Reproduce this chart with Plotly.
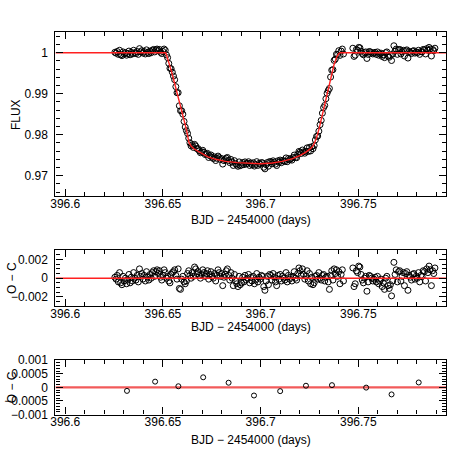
import plotly.graph_objects as go

# ---------------- data ----------------
TIME = [
 396.6254, 396.6260, 396.6266, 396.6272, 396.6278, 396.6284, 396.6290, 396.6296, 396.6302, 396.6308,
 396.6314, 396.6320, 396.6326, 396.6332, 396.6338, 396.6344, 396.6350, 396.6356, 396.6362, 396.6368,
 396.6374, 396.6380, 396.6386, 396.6392, 396.6398, 396.6404, 396.6410, 396.6416, 396.6422, 396.6428,
 396.6434, 396.6440, 396.6446, 396.6452, 396.6458, 396.6464, 396.6470, 396.6476, 396.6482, 396.6488,
 396.6494, 396.6500, 396.6506, 396.6512, 396.6518, 396.6524, 396.6530, 396.6536, 396.6542, 396.6548,
 396.6554, 396.6560, 396.6566, 396.6572, 396.6578, 396.6584, 396.6590, 396.6596, 396.6602, 396.6608,
 396.6614, 396.6620, 396.6626, 396.6632, 396.6638, 396.6644, 396.6650, 396.6656, 396.6662, 396.6668,
 396.6674, 396.6680, 396.6686, 396.6692, 396.6698, 396.6704, 396.6710, 396.6716, 396.6722, 396.6728,
 396.6734, 396.6740, 396.6746, 396.6752, 396.6758, 396.6764, 396.6770, 396.6776, 396.6782, 396.6788,
 396.6794, 396.6800, 396.6806, 396.6812, 396.6818, 396.6824, 396.6830, 396.6836, 396.6842, 396.6848,
 396.6854, 396.6860, 396.6866, 396.6872, 396.6878, 396.6884, 396.6890, 396.6896, 396.6902, 396.6908,
 396.6914, 396.6920, 396.6926, 396.6932, 396.6938, 396.6944, 396.6950, 396.6956, 396.6962, 396.6968,
 396.6974, 396.6980, 396.6986, 396.6992, 396.6998, 396.7004, 396.7010, 396.7016, 396.7022, 396.7028,
 396.7034, 396.7040, 396.7046, 396.7052, 396.7058, 396.7064, 396.7070, 396.7076, 396.7082, 396.7088,
 396.7094, 396.7100, 396.7106, 396.7112, 396.7118, 396.7124, 396.7130, 396.7136, 396.7142, 396.7148,
 396.7154, 396.7160, 396.7166, 396.7172, 396.7178, 396.7184, 396.7190, 396.7196, 396.7202, 396.7208,
 396.7214, 396.7220, 396.7226, 396.7232, 396.7238, 396.7244, 396.7250, 396.7256, 396.7262, 396.7268,
 396.7274, 396.7280, 396.7286, 396.7292, 396.7298, 396.7304, 396.7310, 396.7316, 396.7322, 396.7328,
 396.7334, 396.7340, 396.7346, 396.7352, 396.7358, 396.7364, 396.7370, 396.7376, 396.7382, 396.7388,
 396.7394, 396.7400, 396.7406, 396.7412, 396.7418, 396.7424,
 396.7472, 396.7478, 396.7484, 396.7490, 396.7496, 396.7502, 396.7508, 396.7514, 396.7520, 396.7526,
 396.7532, 396.7538, 396.7544, 396.7550, 396.7556, 396.7562, 396.7568, 396.7574, 396.7580, 396.7586,
 396.7592, 396.7598, 396.7604, 396.7610, 396.7616, 396.7622, 396.7628, 396.7634, 396.7640, 396.7646,
 396.7652, 396.7658, 396.7664, 396.7670, 396.7676, 396.7682, 396.7688, 396.7694, 396.7700, 396.7706,
 396.7712, 396.7718, 396.7724, 396.7730, 396.7736, 396.7742, 396.7748, 396.7754, 396.7760, 396.7766,
 396.7772, 396.7778, 396.7784, 396.7790, 396.7796, 396.7802, 396.7808, 396.7814, 396.7820, 396.7826,
 396.7832, 396.7838, 396.7844, 396.7850, 396.7856, 396.7862, 396.7868, 396.7874, 396.7880, 396.7886,
 396.7892,
]

FLUX = [
 1.0001, 0.9999, 1.0003, 0.9996, 1.0006, 0.9995, 0.9993, 1.0002, 0.9997, 1.0000,
 0.9994, 0.9998, 1.0004, 0.9995, 1.0001, 0.9997, 1.0006, 1.0000, 0.9998, 1.0003,
 0.9996, 1.0010, 1.0002, 1.0005, 0.9999, 1.0003, 0.9997, 1.0007, 1.0001, 0.9998,
 1.0004, 1.0000, 1.0006, 1.0008, 1.0002, 1.0007, 1.0009, 1.0005, 1.0008, 1.0001,
 0.9998, 1.0003, 1.0009, 1.0006, 0.99947, 0.9988, 0.9974, 0.9962, 0.9961, 0.99526,
 0.9943, 0.9934, 0.99172, 0.99024, 0.99026, 0.98706, 0.98585, 0.98584, 0.98501, 0.98324,
 0.98187, 0.9810, 0.98032, 0.97915, 0.97803, 0.97728, 0.97757, 0.97689, 0.97764, 0.97726,
 0.97658, 0.9766, 0.97605, 0.9756, 0.97585, 0.97619, 0.97573, 0.97517, 0.97531, 0.97545,
 0.97444, 0.97485, 0.97506, 0.97447, 0.97418, 0.97459, 0.9737, 0.97424, 0.97478, 0.97442,
 0.97396, 0.9742, 0.97284, 0.97368, 0.97392, 0.97428, 0.97445, 0.97372, 0.97319, 0.97396,
 0.97333, 0.9725, 0.97367, 0.97294, 0.97261, 0.97229, 0.97337, 0.97245, 0.97263, 0.97321,
 0.97269, 0.97337, 0.97285, 0.97303, 0.97341, 0.97249, 0.97308, 0.97267, 0.97316, 0.97235,
 0.97274, 0.97343, 0.97252, 0.97301, 0.9728, 0.97321, 0.97313, 0.97205, 0.97167, 0.97269,
 0.97321, 0.97233, 0.97345, 0.97337, 0.97289, 0.97363, 0.97328, 0.97283, 0.97248, 0.97363,
 0.97328, 0.97382, 0.97317, 0.97372, 0.9736, 0.97347, 0.97434, 0.97341, 0.97418, 0.97386,
 0.97413, 0.9738, 0.97442, 0.97504, 0.97446, 0.97438, 0.9752, 0.97592, 0.97575, 0.97541,
 0.97627, 0.97583, 0.97549, 0.97597, 0.97679, 0.9759, 0.97692, 0.97605, 0.97707, 0.97659,
 0.97735, 0.97873, 0.97957, 0.97967, 0.98087, 0.98244, 0.9835, 0.98526, 0.98661, 0.98714,
 0.98877, 0.9901, 0.99079, 0.99128, 0.99407, 0.99575, 0.99587, 0.99813, 0.99843, 0.99963,
 0.99952, 1.0005, 0.99935, 1.0004, 1.0009, 0.9997,
 1.0011, 0.9991, 0.9994, 1.0008, 1.0006, 1.0013, 1.0012, 1.0004, 0.9998, 0.9995,
 1.0000, 1.0002, 0.9986, 0.9996, 1.0003, 1.0002, 1.0000, 0.9997, 0.9999, 1.0001,
 0.9996, 1.0002, 0.9994, 0.9997, 0.9999, 0.9991, 0.9995, 0.9988, 1.0000, 1.0002,
 0.9992, 0.9989, 0.9993, 0.9981, 0.9997, 1.0017, 1.0004, 1.0009, 0.9996, 1.0007,
 1.0008, 0.9997, 1.0002, 1.0006, 0.9992, 1.0005, 1.0007, 0.9987, 1.0003, 1.0001,
 0.9998, 1.0004, 1.0005, 0.9999, 1.0002, 1.0000, 1.0006, 0.9996, 1.0003, 1.0002,
 1.0008, 1.0007, 0.9997, 1.0010, 1.0006, 1.0013, 1.0009, 0.9992, 1.0008, 1.0005,
 1.0011,
]

# residuals O - C, in units of 1e-4
RESID_1E4 = [
 1, -1, 3, -4, 6, -5, -7, 2, -3, 0,
 -6, -2, 4, -5, 1, -3, 6, 0, -2, 3,
 -4, 10, 2, 5, -1, 3, -3, 7, 1, -2,
 4, 0, 6, 8, 2, 7, 9, 5, 8, 1,
 -2, 3, 9, 6, 0, 2, -3, -5, 4, 6,
 7, 9, 3, -1, 10, -11, -12, -1, 2, -4,
 -6, -3, 5, 8, 3, 0, 6, 2, 12, 10,
 5, 7, 3, 0, 4, 9, 6, 2, 5, 8,
 -1, 4, 7, 2, 0, 5, -3, 3, 9, 6,
 2, 5, -8, 1, 4, 8, 10, 3, -2, 6,
 0, -8, 4, -3, -6, -9, 2, -7, -5, 1,
 -4, 3, -2, 0, 4, -5, 1, -3, 2, -6,
 -2, 5, -4, 1, -1, 3, 2, -9, -13, -3,
 2, -7, 4, 3, -2, 5, 1, -4, -8, 3,
 -1, 4, -3, 2, 0, -2, 6, -4, 3, -1,
 1, -3, 2, 7, 0, -2, 5, 11, 8, 3,
 10, 4, -1, 2, 8, -3, 5, -6, 1, -7,
 -5, 2, 3, -1, 6, 0, -2, 3, 4, -3,
 1, 2, -4, -12, 3, 8, -2, 10, 5, 9,
 2, 7, -6, 4, 9, -3,
 11, -9, -6, 8, 6, 13, 12, 4, -2, -5,
 0, 2, -14, -4, 3, 2, 0, -3, -1, 1,
 -4, 2, -6, -3, -1, -9, -5, -12, 0, 2,
 -8, -11, -7, -19, -3, 17, 4, 9, -4, 7,
 8, -3, 2, 6, -8, 5, 7, -13, 3, 1,
 -2, 4, 5, -1, 2, 0, 6, -4, 3, 2,
 8, 7, -3, 10, 6, 13, 9, -8, 8, 5,
 11,
]

# transit model curve (red line), read at its knots
MODEL_T = [396.595, 396.6514, 396.6520, 396.6530, 396.6545, 396.6560, 396.6580, 396.6600,
           396.6620, 396.6633, 396.6645, 396.6660, 396.6680, 396.6700, 396.6730, 396.6770,
           396.6820, 396.6880, 396.6940, 396.7000, 396.7060, 396.7110, 396.7160, 396.7200,
           396.7230, 396.7255, 396.7270, 396.7285, 396.7300, 396.7320, 396.7340, 396.7360,
           396.7375, 396.7390, 396.7400, 396.7408, 396.795]
MODEL_F = [1.0000, 1.0000, 0.9992, 0.9977, 0.9952, 0.9925, 0.9889, 0.9852,
           0.9813, 0.9781, 0.9772, 0.9765, 0.9759, 0.9754, 0.9746, 0.9740,
           0.9735, 0.9732, 0.9730, 0.9729, 0.9731, 0.9735, 0.9741, 0.9749,
           0.9757, 0.9766, 0.9774, 0.9791, 0.9816, 0.9858, 0.9899, 0.9942,
           0.9970, 0.9990, 0.9998, 1.0000, 1.0000]

# binned residuals (bottom panel)
BIN_T = [396.6316, 396.6460, 396.6579, 396.6706, 396.6836, 396.6966,
         396.7100, 396.7232, 396.7365, 396.7540, 396.7670, 396.7809]
BIN_R = [-0.00013, 0.00021, 0.00004, 0.00037, 0.00017, -0.00030,
         -0.00014, 0.00006, 0.00008, -0.00001, -0.00026, 0.00018]

ZERO_T = [396.595, 396.795]
ZERO_V = [0.0, 0.0]

X_TITLE = "BJD − 2454000 (days)"
Y_TITLES = ["FLUX", "O − C", "O − C"]

assert len(TIME) == len(FLUX) == len(RESID_1E4)
RESID = [r * 1e-4 for r in RESID_1E4]

# ---------------- figure ----------------
W = H = 471
FONT = "Liberation Sans, Arial, Helvetica, sans-serif"
RED = "#ff2020"

fig = go.Figure()
mk = dict(symbol="circle-open", size=6, color="black", line=dict(width=1, color="black"))

fig.add_trace(go.Scatter(x=TIME, y=FLUX, mode="markers", marker=mk, xaxis="x", yaxis="y"))
fig.add_trace(go.Scatter(x=MODEL_T, y=MODEL_F, mode="lines",
                         line=dict(color=RED, width=1.4), xaxis="x", yaxis="y"))
fig.add_trace(go.Scatter(x=TIME, y=RESID, mode="markers", marker=mk, xaxis="x2", yaxis="y2"))
fig.add_trace(go.Scatter(x=ZERO_T, y=ZERO_V, mode="lines",
                         line=dict(color=RED, width=1.4), xaxis="x2", yaxis="y2"))
fig.add_trace(go.Scatter(x=ZERO_T, y=ZERO_V, mode="lines",
                         line=dict(color="#f25a5a", width=2.2), xaxis="x3", yaxis="y3"))
fig.add_trace(go.Scatter(x=BIN_T, y=BIN_R, mode="markers",
                         marker=dict(symbol="circle-open", size=5, color="black",
                                     line=dict(width=1, color="black")),
                         xaxis="x3", yaxis="y3"))


def px2paper_y(p):
    return 1 - p / H


XDOM = [51 / W, 446 / W]
YDOMS = [
    [px2paper_y(195), px2paper_y(26)],
    [px2paper_y(308.3), px2paper_y(250.7)],
    [px2paper_y(420), px2paper_y(364)],
]


def common(**kw):
    d = dict(ticks="inside", ticklen=7, tickwidth=1, tickcolor="black",
             showline=True, linecolor="black", linewidth=1.2, mirror="allticks",
             showgrid=False, zeroline=False, tickmode="linear",
             tickfont=dict(family=FONT, size=12, color="black"))
    d.update(kw)
    return d


def xaxis(anchor):
    return common(domain=XDOM, range=[396.595, 396.795], anchor=anchor,
                  tick0=396.6, dtick=0.05, ticklabelstandoff=-4,
                  minor=dict(ticks="inside", ticklen=4, tickwidth=1, tickcolor="black",
                             tick0=396.6, dtick=0.01, showgrid=False))


def yaxis(anchor, dom, rng, tick0, dtick, mdtick):
    return common(domain=dom, range=rng, anchor=anchor, tick0=tick0, dtick=dtick,
                  ticklabelstandoff=4,
                  minor=dict(ticks="inside", ticklen=4, tickwidth=1, tickcolor="black",
                             tick0=tick0, dtick=mdtick, showgrid=False))


fig.update_layout(
    width=W, height=H, margin=dict(l=0, r=0, t=0, b=0),
    paper_bgcolor="white", plot_bgcolor="white", showlegend=False,
    font=dict(family=FONT, size=12, color="black"),
    xaxis=xaxis("y"),
    yaxis=yaxis("x", YDOMS[0], [0.965, 1.005], 0.97, 0.01, 0.002),
    xaxis2=xaxis("y2"),
    yaxis2=yaxis("x2", YDOMS[1], [-0.003, 0.003], 0, 0.002, 0.0005),
    xaxis3=xaxis("y3"),
    yaxis3=yaxis("x3", YDOMS[2], [-0.001, 0.001], 0, 0.0005, 0.0001),
)

# axis titles as annotations at measured positions
ann = []
for ypx in (220, 330, 446.7):
    ann.append(dict(text=X_TITLE, xref="paper", yref="paper", x=248.5 / W, y=px2paper_y(ypx),
                    xanchor="center", yanchor="middle", showarrow=False,
                    font=dict(family=FONT, size=12, color="black")))
for txt, xpx, ypx in zip(Y_TITLES, (11, 7, 7), (110.5, 279.5, 392)):
    ann.append(dict(text=txt, xref="paper", yref="paper", x=xpx / W, y=px2paper_y(ypx),
                    xanchor="center", yanchor="middle", textangle=-90, showarrow=False,
                    font=dict(family=FONT, size=12, color="black")))
fig.update_layout(annotations=ann)

fig.write_html("out.html", config={"responsive": False, "displayModeBar": False})

# remove the browser's default page margin so the 471x471 figure fills the window exactly
with open("out.html", encoding="utf-8") as f:
    html = f.read()
html = html.replace("<head>", "<head><style>html,body{margin:0;padding:0;overflow:hidden;}</style>", 1)
with open("out.html", "w", encoding="utf-8") as f:
    f.write(html)
